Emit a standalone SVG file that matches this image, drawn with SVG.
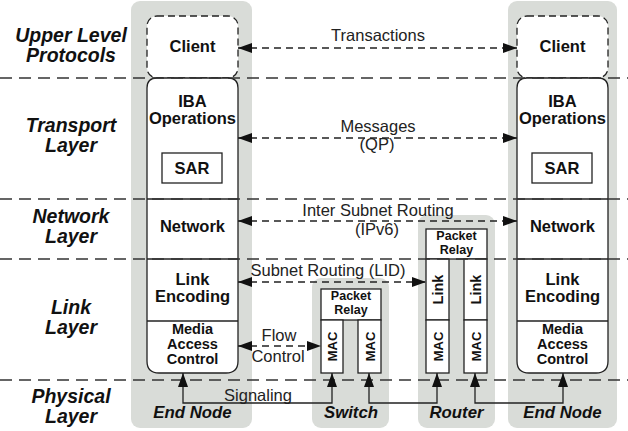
<svg xmlns="http://www.w3.org/2000/svg" width="628" height="431" viewBox="0 0 628 431">
<defs>
<style>
.col{fill:#d9dcd8;}
.box{fill:#fff;stroke:#222;stroke-width:1.3;}
.sep{stroke:#222;stroke-width:1.3;fill:none;}
.cli{fill:#fff;stroke:#222;stroke-width:1.3;stroke-dasharray:7 4;}
.layer{stroke:#333;stroke-width:1.4;stroke-dasharray:12 7;fill:none;}
.dash{stroke:#222;stroke-width:1.3;stroke-dasharray:7 5;fill:none;marker-start:url(#ah);marker-end:url(#ah);}
.sig{stroke:#222;stroke-width:1.3;fill:none;marker-start:url(#ah);marker-end:url(#ah);}
text{font-family:"Liberation Sans",Arial,sans-serif;fill:#111;text-anchor:middle;}
.lay{font-weight:bold;font-style:italic;font-size:19.5px;}
.nl{font-weight:bold;font-style:italic;font-size:16.8px;}
.nt{font-weight:bold;font-size:16.5px;}
.mt{font-weight:bold;font-size:14.5px;}
.pr{font-weight:bold;font-size:12.5px;}
.lb{font-size:16.5px;fill:#222;}
</style>
<marker id="ah" viewBox="0 0 14 10" refX="14" refY="5" markerWidth="14" markerHeight="10" markerUnits="userSpaceOnUse" orient="auto-start-reverse">
<path d="M0,0 L14,5 L0,10 Z" fill="#111"/>
</marker>
</defs>

<g id="columns">
<rect class="col" x="131" y="1" width="121" height="427" rx="9"/>
<rect class="col" x="312" y="278" width="77" height="150" rx="9"/>
<rect class="col" x="418" y="215" width="77" height="213" rx="9"/>
<rect class="col" x="508" y="1" width="109" height="427" rx="9"/>
</g>

<g id="layer-labels">
<text class="lay" x="71" y="42">Upper Level</text>
<text class="lay" x="71" y="62">Protocols</text>
<text class="lay" x="71" y="132">Transport</text>
<text class="lay" x="71" y="152">Layer</text>
<text class="lay" x="71" y="223">Network</text>
<text class="lay" x="71" y="243">Layer</text>
<text class="lay" x="71" y="314">Link</text>
<text class="lay" x="71" y="334">Layer</text>
<text class="lay" x="71" y="403">Physical</text>
<text class="lay" x="71" y="423">Layer</text>
</g>

<g id="end-node-left">
<rect class="cli" x="147" y="16" width="91" height="62" rx="10"/>
<text class="nt" x="192.5" y="52">Client</text>
<path class="box" d="M157,78 Q147,78 147,88 V361 Q147,373 159,373 H226 Q238,373 238,361 V88 Q238,78 228,78 Z"/>
<line class="sep" x1="147" y1="199" x2="238" y2="199"/>
<line class="sep" x1="147" y1="259" x2="238" y2="259"/>
<line class="sep" x1="147" y1="321" x2="238" y2="321"/>
<text class="nt" x="192.5" y="107">IBA</text>
<text class="nt" x="192.5" y="124">Operations</text>
<rect class="box" x="162" y="153" width="60" height="30"/>
<text class="nt" x="192" y="174">SAR</text>
<text class="nt" x="192.5" y="232">Network</text>
<text class="nt" x="192.5" y="285">Link</text>
<text class="nt" x="192.5" y="302">Encoding</text>
<text class="mt" x="192.5" y="334">Media</text>
<text class="mt" x="192.5" y="349">Access</text>
<text class="mt" x="192.5" y="364">Control</text>
<text class="nl" x="192.5" y="418">End Node</text>
</g>

<g id="switch">
<rect class="box" x="321" y="289" width="60" height="31"/>
<text class="pr" x="351" y="300">Packet</text>
<text class="pr" x="351" y="314">Relay</text>
<rect class="box" x="321" y="320" width="22" height="53"/>
<rect class="box" x="358" y="320" width="23" height="53"/>
<text class="pr" style="font-size:13px" transform="translate(337,346.5) rotate(-90)">MAC</text>
<text class="pr" style="font-size:13px" transform="translate(374.5,346.5) rotate(-90)">MAC</text>
<text class="nl" x="351" y="418">Switch</text>
</g>

<g id="router">
<rect class="box" x="426" y="229" width="61" height="30"/>
<text class="pr" x="456.5" y="240">Packet</text>
<text class="pr" x="456.5" y="254">Relay</text>
<rect class="box" x="426" y="259" width="23" height="61"/>
<rect class="box" x="464" y="259" width="23" height="61"/>
<rect class="box" x="426" y="320" width="23" height="53"/>
<rect class="box" x="464" y="320" width="23" height="53"/>
<text class="nt" style="font-size:14.5px" transform="translate(442.5,289.5) rotate(-90)">Link</text>
<text class="nt" style="font-size:14.5px" transform="translate(480.5,289.5) rotate(-90)">Link</text>
<text class="pr" style="font-size:13px" transform="translate(442.5,346.5) rotate(-90)">MAC</text>
<text class="pr" style="font-size:13px" transform="translate(480.5,346.5) rotate(-90)">MAC</text>
<text class="nl" x="456.5" y="418">Router</text>
</g>

<g id="end-node-right">
<rect class="cli" x="517" y="16" width="91" height="62" rx="10"/>
<text class="nt" x="562.5" y="52">Client</text>
<path class="box" d="M527,78 Q517,78 517,88 V361 Q517,373 529,373 H596 Q608,373 608,361 V88 Q608,78 598,78 Z"/>
<line class="sep" x1="517" y1="199" x2="608" y2="199"/>
<line class="sep" x1="517" y1="259" x2="608" y2="259"/>
<line class="sep" x1="517" y1="321" x2="608" y2="321"/>
<text class="nt" x="562.5" y="107">IBA</text>
<text class="nt" x="562.5" y="124">Operations</text>
<rect class="box" x="532" y="153" width="60" height="30"/>
<text class="nt" x="562" y="174">SAR</text>
<text class="nt" x="562.5" y="232">Network</text>
<text class="nt" x="562.5" y="285">Link</text>
<text class="nt" x="562.5" y="302">Encoding</text>
<text class="mt" x="562.5" y="334">Media</text>
<text class="mt" x="562.5" y="349">Access</text>
<text class="mt" x="562.5" y="364">Control</text>
<text class="nl" x="562.5" y="418">End Node</text>
</g>

<g id="layer-lines">
<line class="layer" x1="0" y1="78" x2="628" y2="78"/>
<line class="layer" x1="0" y1="199" x2="628" y2="199"/>
<line class="layer" x1="0" y1="259" x2="628" y2="259"/>
<line class="layer" x1="0" y1="380" x2="628" y2="380"/>
</g>

<g id="connectors">
<line class="dash" x1="238" y1="48" x2="517" y2="48"/>
<line class="dash" x1="238" y1="138" x2="517" y2="138"/>
<line class="dash" x1="238" y1="221" x2="517" y2="221"/>
<line class="dash" x1="238" y1="282" x2="426" y2="282"/>
<line class="dash" x1="238" y1="346" x2="321" y2="346"/>
<path class="sig" d="M183,373 V403 H332 V373"/>
<path class="sig" d="M369,373 V403 H437 V373"/>
<path class="sig" d="M475,373 V403 H563 V373"/>
<text class="lb" x="378" y="41">Transactions</text>
<text class="lb" x="378" y="132">Messages</text>
<text class="lb" x="377" y="150">(QP)</text>
<text class="lb" x="378" y="216">Inter Subnet Routing</text>
<text class="lb" x="377" y="235">(IPv6)</text>
<text class="lb" x="328" y="276">Subnet Routing (LID)</text>
<text class="lb" x="279" y="341">Flow</text>
<text class="lb" x="278" y="362">Control</text>
<text class="lb" x="258" y="401">Signaling</text>
</g>
</svg>
